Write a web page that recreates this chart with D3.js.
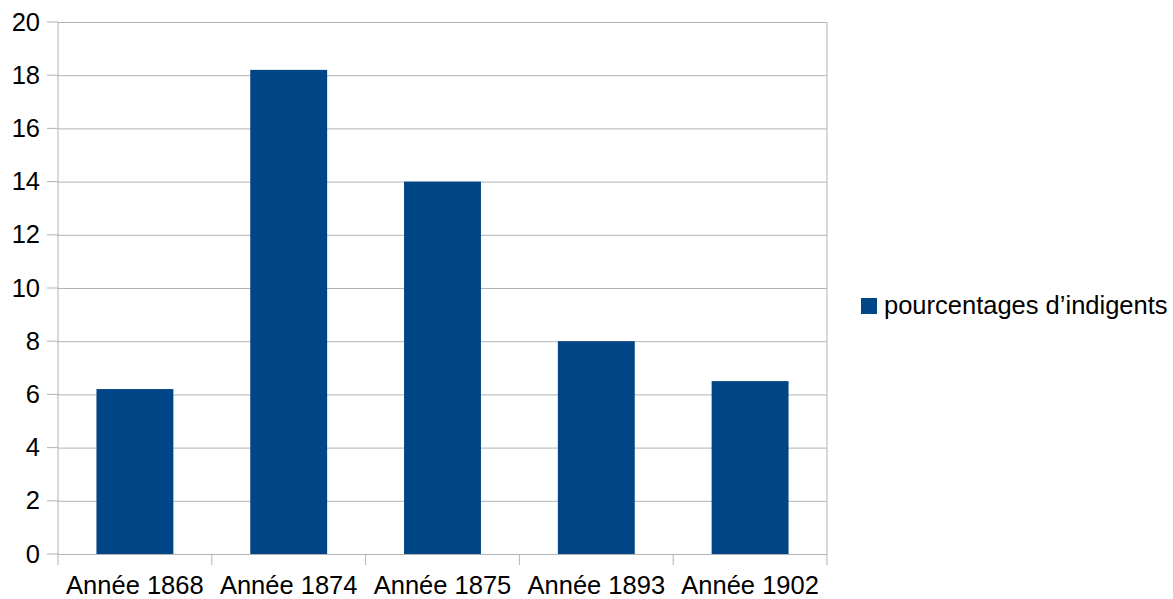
<!DOCTYPE html>
<html>
<head>
<meta charset="utf-8">
<script src="https://cdn.jsdelivr.net/npm/d3@7"></script>
<style>
  body { margin: 0; background: #fff; }
  text { font-family: "Liberation Sans", Arial, sans-serif; fill: #000; }
</style>
</head>
<body>
<div id="chart"></div>
<script>
// data
var categories = ["Année 1868", "Année 1874", "Année 1875", "Année 1893", "Année 1902"];
var values = [6.2, 18.2, 14.0, 8.0, 6.5];
var seriesName = "pourcentages d’indigents";
var yTicks = [0, 2, 4, 6, 8, 10, 12, 14, 16, 18, 20];

var svgWidth = 1173;
var svgHeight = 599;
var plot = { left: 58, right: 827, top: 22, bottom: 554 };
var fontSize = "25.5px";

var svg = d3.select("#chart")
  .append("svg")
  .attr("width", svgWidth)
  .attr("height", svgHeight);

var xScale = d3.scaleBand()
  .domain(categories)
  .range([plot.left, plot.right])
  .paddingInner(0.5)
  .paddingOuter(0.25);

var yScale = d3.scaleLinear()
  .domain([0, 20])
  .range([plot.bottom, plot.top]);

// gridlines with tick labels
var yAxis = svg.append("g")
  .attr("transform", "translate(" + plot.left + ",0)")
  .call(d3.axisLeft(yScale)
    .tickValues(yTicks)
    .tickSize(-(plot.right - plot.left))
    .tickSizeOuter(0)
    .tickPadding(18));
yAxis.select(".domain").remove();
yAxis.selectAll(".tick line").attr("stroke", "#b3b3b3");
yAxis.selectAll(".tick text")
  .attr("font-size", fontSize)
  .attr("font-family", "Liberation Sans, Arial, sans-serif")
  .attr("fill", "#000");

// short tick marks left of the axis
svg.append("g")
  .selectAll("line")
  .data(yTicks)
  .join("line")
  .attr("x1", plot.left - 11)
  .attr("x2", plot.left)
  .attr("y1", d => yScale(d))
  .attr("y2", d => yScale(d))
  .attr("stroke", "#b3b3b3");

// right border and left axis line
svg.append("line")
  .attr("x1", plot.left).attr("x2", plot.left)
  .attr("y1", plot.top).attr("y2", plot.bottom + 11)
  .attr("stroke", "#b3b3b3");
svg.append("line")
  .attr("x1", plot.right).attr("x2", plot.right)
  .attr("y1", plot.top).attr("y2", plot.bottom + 11)
  .attr("stroke", "#b3b3b3");

// category boundary ticks under the x axis
var step = xScale.step();
var bounds = categories.slice(1).map(function(c) { return xScale(c) - step * 0.25; });
svg.append("g")
  .selectAll("line")
  .data(bounds)
  .join("line")
  .attr("x1", d => d).attr("x2", d => d)
  .attr("y1", plot.bottom).attr("y2", plot.bottom + 11)
  .attr("stroke", "#b3b3b3");

// bars
svg.append("g")
  .selectAll("rect")
  .data(values)
  .join("rect")
  .attr("x", (d, i) => xScale(categories[i]))
  .attr("y", d => yScale(d))
  .attr("width", xScale.bandwidth())
  .attr("height", d => yScale(0) - yScale(d))
  .attr("fill", "#004586");

// x labels
svg.append("g")
  .selectAll("text")
  .data(categories)
  .join("text")
  .attr("x", d => xScale(d) + xScale.bandwidth() / 2)
  .attr("y", 594)
  .attr("text-anchor", "middle")
  .attr("font-size", fontSize)
  .text(d => d);

// legend
svg.append("rect")
  .attr("x", 861).attr("y", 298)
  .attr("width", 16).attr("height", 16)
  .attr("fill", "#004586");
svg.append("text")
  .attr("x", 884).attr("y", 314)
  .attr("font-size", fontSize)
  .text(seriesName);
</script>
</body>
</html>
